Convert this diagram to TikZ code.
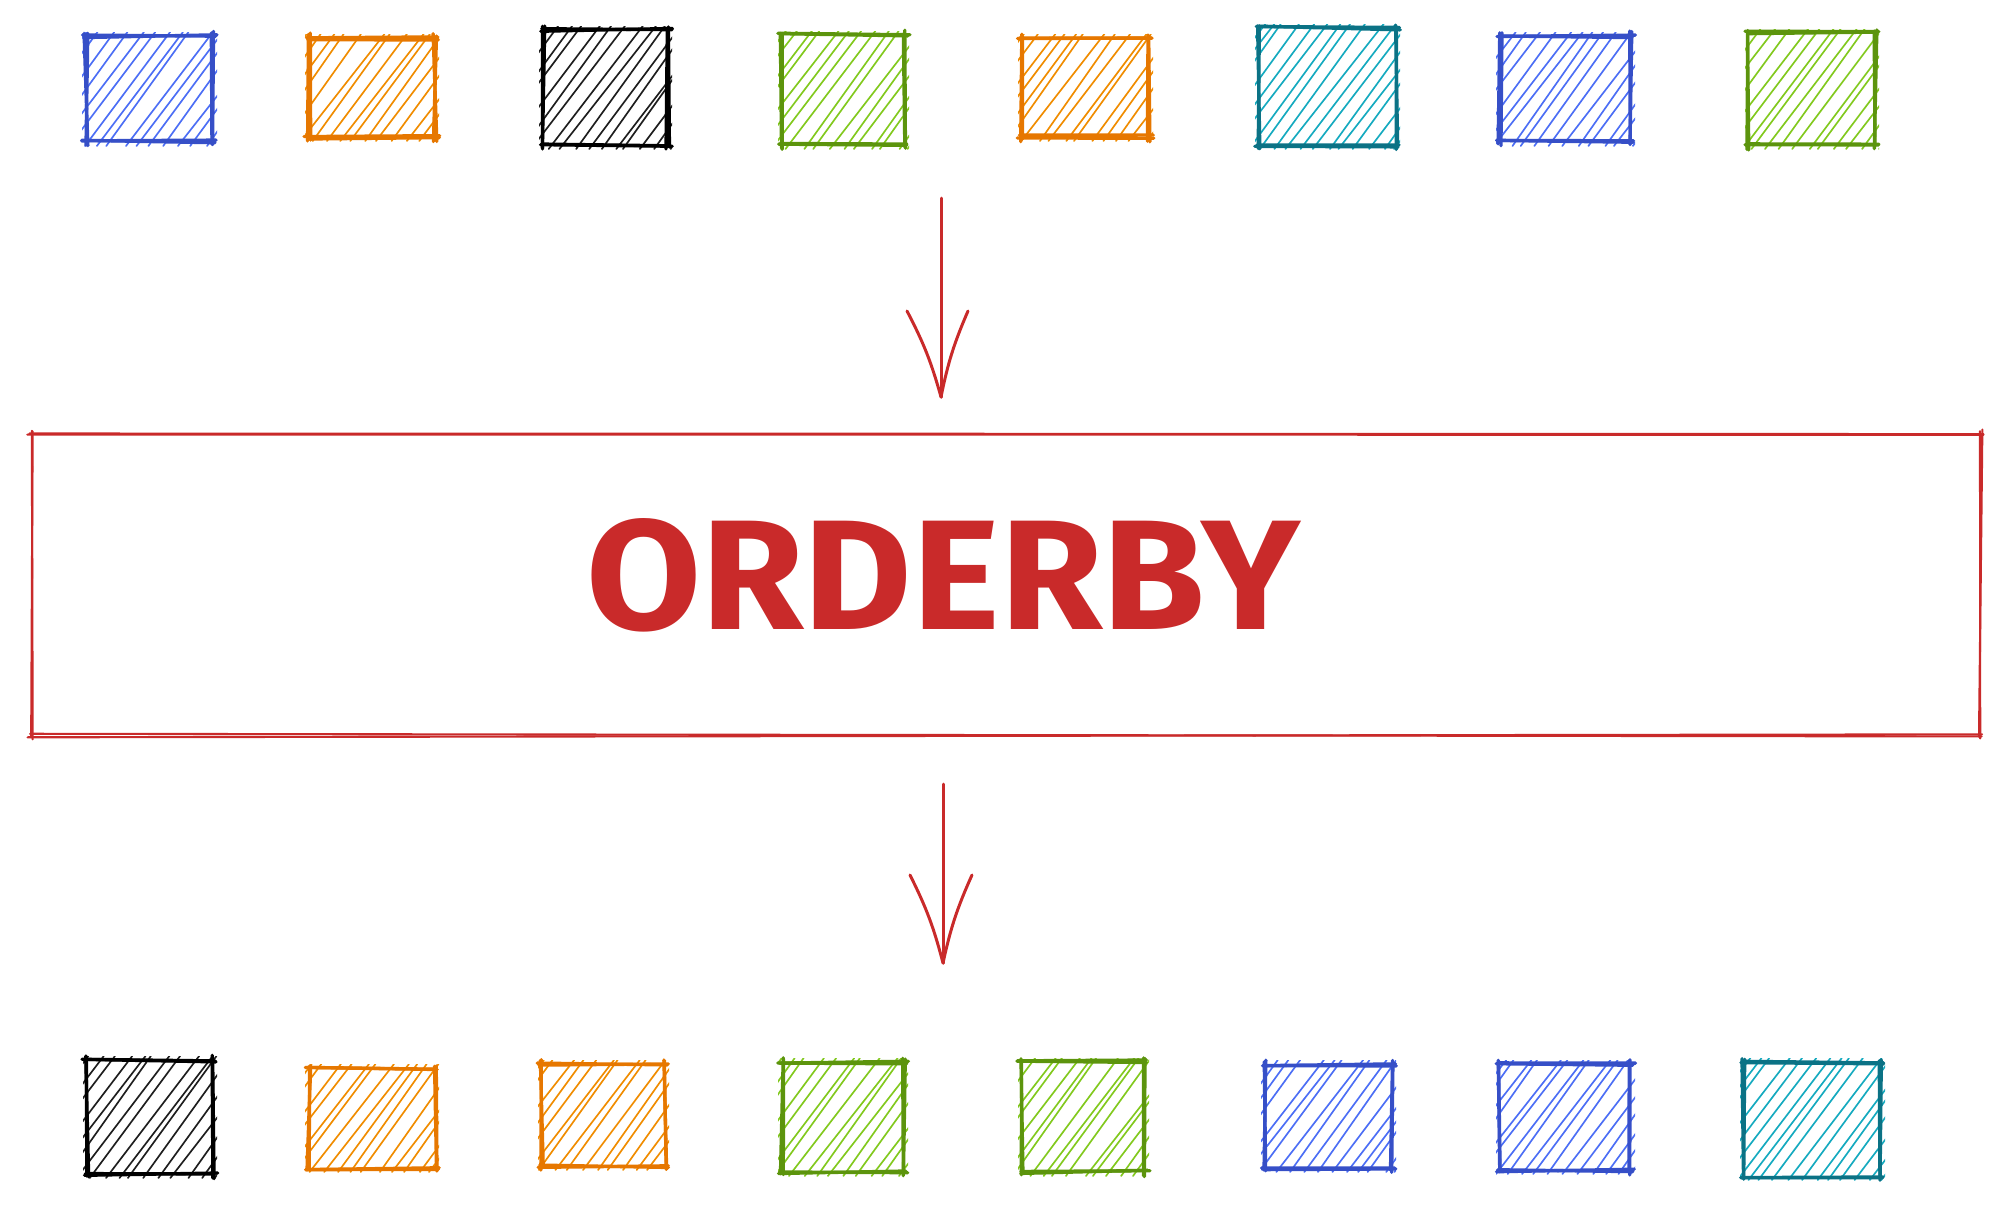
\documentclass[tikz,border=0pt]{standalone}
\usepackage{fontspec}
\usepackage{graphicx}
\setmainfont{Fira Sans}
\definecolor{redS}{HTML}{C92A2A}
\definecolor{bluS}{HTML}{364FC7}
\definecolor{bluF}{HTML}{4C6EF5}
\definecolor{oraS}{HTML}{E67700}
\definecolor{oraF}{HTML}{F08C00}
\definecolor{grnS}{HTML}{5C940D}
\definecolor{grnF}{HTML}{82C91E}
\definecolor{tealS}{HTML}{0B7285}
\definecolor{tealF}{HTML}{15AABF}
\definecolor{blkS}{HTML}{000000}
\definecolor{blkF}{HTML}{1E1E1E}
\tikzset{
  edge/.style={line width=1.9pt,line cap=round},
  hatch/.style={line width=0.95pt,line cap=round},
  boxedge/.style={redS,line width=1.2pt,line cap=round},
  arrowline/.style={redS,line width=1.7pt,line cap=round},
}
% x1,y1,x2,y2,stroke,fill
\newcommand\sketchsq[6]{%
  \begin{scope}
    \clip (#1-4,#2-4) rectangle (#3+4,#4+4);
    \pgfmathsetmacro\hh{#4-#2}
    \foreach \i in {0,...,20}{
      \pgfmathsetmacro\xa{#1-\hh*0.8+\i*13.5+rand*4}
      \draw[#6,hatch] (\xa,#4+4) -- (\xa+\hh*0.8+rand*5,#2-4);
    }
  \end{scope}
  \foreach \k in {1,2}{
    \draw[#5,edge] (#1-3+rand*2,#2+rand*2) -- (#3+3+rand*2,#2+rand*2);
    \draw[#5,edge] (#1-3+rand*2,#4+rand*2) -- (#3+3+rand*2,#4+rand*2);
    \draw[#5,edge] (#1+rand*2,#2-3+rand*2) -- (#1+rand*2,#4+3+rand*2);
    \draw[#5,edge] (#3+rand*2,#2-3+rand*2) -- (#3+rand*2,#4+3+rand*2);
  }
}
\begin{document}
\begin{tikzpicture}[x=0.02cm,y=-0.02cm]
\pgfmathsetseed{7}
\useasboundingbox (0,0) rectangle (2008,1205);
% top row
\sketchsq{86}{36}{213}{142}{bluS}{bluF}
\sketchsq{309}{38}{435}{137}{oraS}{oraF}
\sketchsq{543}{30}{668}{145}{blkS}{blkF}
\sketchsq{782}{35}{905}{145}{grnS}{grnF}
\sketchsq{1022}{38}{1149}{137}{oraS}{oraF}
\sketchsq{1259}{28}{1396}{145}{tealS}{tealF}
\sketchsq{1500}{36}{1631}{142}{bluS}{bluF}
\sketchsq{1749}{33}{1875}{145}{grnS}{grnF}
% bottom row
\sketchsq{87}{1060}{213}{1174}{blkS}{blkF}
\sketchsq{309}{1068}{435}{1168}{oraS}{oraF}
\sketchsq{542}{1064}{665}{1166}{oraS}{oraF}
\sketchsq{782}{1062}{904}{1172}{grnS}{grnF}
\sketchsq{1022}{1062}{1145}{1172}{grnS}{grnF}
\sketchsq{1265}{1064}{1392}{1168}{bluS}{bluF}
\sketchsq{1500}{1064}{1631}{1170}{bluS}{bluF}
\sketchsq{1744}{1062}{1881}{1176}{tealS}{tealF}
% ORDERBY box
\node[minimum width=1949*0.02cm,minimum height=301*0.02cm,inner sep=0pt] (box) at (1005.5,584.5) {};
\foreach \k in {1,2}{
  \draw[boxedge] ([xshift=-0.04cm+rand*0.03cm,yshift=rand*0.04cm]box.north west) -- ([xshift=0.04cm+rand*0.03cm,yshift=rand*0.04cm]box.north east);
  \draw[boxedge] ([xshift=-0.04cm+rand*0.03cm,yshift=rand*0.04cm]box.south west) -- ([xshift=0.04cm+rand*0.03cm,yshift=rand*0.04cm]box.south east);
  \draw[boxedge] ([yshift=0.06cm+rand*0.03cm,xshift=rand*0.05cm]box.north west) -- ([yshift=-0.06cm+rand*0.03cm,xshift=rand*0.05cm]box.south west);
  \draw[boxedge] ([yshift=0.06cm+rand*0.03cm,xshift=rand*0.05cm]box.north east) -- ([yshift=-0.06cm+rand*0.03cm,xshift=rand*0.05cm]box.south east);
}
\node[text=redS,inner sep=0pt] (lbl) at (943,575) {\resizebox{14.28cm}{2.22cm}{\bfseries ORDERBY}};
% arrows
\coordinate (a1s) at (941,198);
\coordinate (a1e) at (941,397);
\draw[arrowline] (a1s) -- (a1e);
\draw[arrowline] (a1e) to[bend right=6] ++(-34,-86);
\draw[arrowline] (a1e) to[bend left=6] ++(27,-86);
\coordinate (a2s) at (943,784);
\coordinate (a2e) at (943,963);
\draw[arrowline] (a2s) -- (a2e);
\draw[arrowline] (a2e) to[bend right=6] ++(-33,-88);
\draw[arrowline] (a2e) to[bend left=6] ++(29,-88);
\end{tikzpicture}
\end{document}
